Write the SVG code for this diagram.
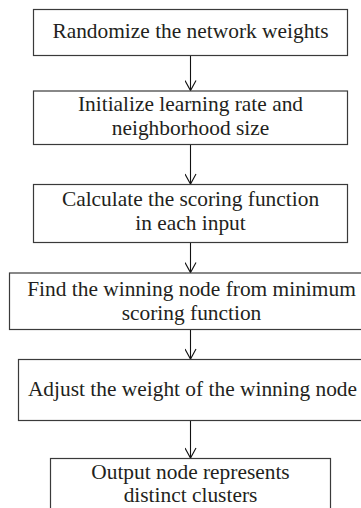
<svg xmlns="http://www.w3.org/2000/svg" width="361" height="508" viewBox="0 0 361 508">
<style>
.box{fill:#fff;stroke:#3a3a3a;stroke-width:1.2}
.lbl{font-family:"Liberation Serif","Times New Roman",serif;font-size:21.4px;fill:#231f20;text-anchor:middle}
.conn{stroke:#111;stroke-width:1.1;fill:none}
</style>
<defs>
<marker id="arr" markerWidth="14" markerHeight="12" refX="11" refY="6" orient="auto" markerUnits="userSpaceOnUse">
<path d="M1,0.5 L11,6 L1,11.5" fill="none" stroke="#111" stroke-width="1.1"/>
</marker>
</defs>
<rect width="361" height="508" fill="#fff"/>
<g id="connectors">
<line class="conn" x1="190.5" y1="55.5" x2="190.5" y2="90.5" marker-end="url(#arr)"/>
<line class="conn" x1="190.5" y1="144.5" x2="190.5" y2="184" marker-end="url(#arr)"/>
<line class="conn" x1="190.5" y1="242.5" x2="190.5" y2="272.5" marker-end="url(#arr)"/>
<line class="conn" x1="190.5" y1="329.5" x2="190.5" y2="359" marker-end="url(#arr)"/>
<line class="conn" x1="190.5" y1="420.5" x2="190.5" y2="458" marker-end="url(#arr)"/>
</g>
<g id="n1">
<rect class="box" x="33.5" y="9.5" width="314" height="46"/>
<text class="lbl" x="190.5" y="38">Randomize the network weights</text>
</g>
<g id="n2">
<rect class="box" x="33.5" y="91" width="314" height="53.5"/>
<text class="lbl" x="190.5" y="111">Initialize learning rate and</text>
<text class="lbl" x="190.5" y="135">neighborhood size</text>
</g>
<g id="n3">
<rect class="box" x="33.5" y="184.5" width="314" height="58"/>
<text class="lbl" x="190.5" y="206">Calculate the scoring function</text>
<text class="lbl" x="190.5" y="230">in each input</text>
</g>
<g id="n4">
<rect class="box" x="9.5" y="273" width="362" height="56.5"/>
<text class="lbl" x="191.5" y="296">Find the winning node from minimum</text>
<text class="lbl" x="191.5" y="320">scoring function</text>
</g>
<g id="n5">
<rect class="box" x="18.5" y="359.5" width="352" height="61"/>
<text class="lbl" x="192.5" y="396">Adjust the weight of the winning node</text>
</g>
<g id="n6">
<rect class="box" x="50.5" y="458.5" width="280" height="60"/>
<text class="lbl" x="190.5" y="479">Output node represents</text>
<text class="lbl" x="190.5" y="502">distinct clusters</text>
</g>
</svg>
